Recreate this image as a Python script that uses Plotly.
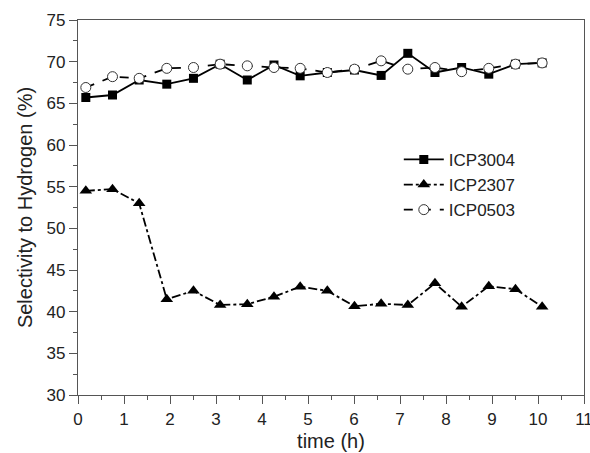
import plotly.graph_objects as go

time_h = [0.17, 0.75, 1.33, 1.93, 2.51, 3.09, 3.68, 4.26, 4.83, 5.42, 6.01, 6.59, 7.17, 7.76, 8.34, 8.93, 9.51, 10.09]
icp3004 = [65.7, 66.0, 67.8, 67.3, 68.0, 69.7, 67.8, 69.6, 68.3, 68.7, 69.0, 68.35, 71.0, 68.7, 69.3, 68.5, 69.7, 69.85]
icp2307 = [54.5, 54.7, 53.0, 41.5, 42.5, 40.8, 40.9, 41.8, 43.0, 42.5, 40.65, 40.95, 40.8, 43.4, 40.6, 43.05, 42.7, 40.6]
icp0503 = [66.9, 68.2, 68.0, 69.2, 69.3, 69.7, 69.5, 69.3, 69.2, 68.7, 69.1, 70.1, 69.1, 69.3, 68.8, 69.2, 69.7, 69.85]

x_title = "time (h)"
y_title = "Selectivity to Hydrogen (%)"

font_family = "Liberation Sans, Arial, sans-serif"
axis_color = "#555"

fig = go.Figure()
fig.add_trace(go.Scatter(
    x=time_h, y=icp3004, name="ICP3004", mode="lines+markers",
    line=dict(color="black", width=1.8, dash="solid"),
    marker=dict(symbol="square", size=9, color="black"),
))
fig.add_trace(go.Scatter(
    x=time_h, y=icp2307, name="ICP2307", mode="lines+markers",
    line=dict(color="black", width=1.8, dash="dashdot"),
    marker=dict(symbol="triangle-up", size=11, color="black"),
))
fig.add_trace(go.Scatter(
    x=time_h, y=icp0503, name="ICP0503", mode="lines+markers",
    line=dict(color="black", width=1.8, dash="dash"),
    marker=dict(symbol="circle", size=10, color="white", line=dict(color="#333", width=1)),
))

axis_common = dict(
    showline=True, linecolor=axis_color, linewidth=1.3, mirror=True,
    ticks="outside", ticklen=8, tickcolor=axis_color, tickwidth=1.3,
    showgrid=False, zeroline=False, automargin=False,
    ticklabeloverflow="allow",
    tickfont=dict(family=font_family, size=17, color="#222"),
)

fig.update_xaxes(
    range=[0, 11], dtick=1, tick0=0,
    minor=dict(dtick=0.5, ticks="outside", ticklen=4, tickcolor=axis_color, tickwidth=1.3),
    title=dict(text=x_title, font=dict(family=font_family, size=20, color="#222"), standoff=6),
    **axis_common,
)
fig.update_yaxes(
    range=[30, 75], dtick=5, tick0=30,
    minor=dict(dtick=2.5, ticks="outside", ticklen=4, tickcolor=axis_color, tickwidth=1.3),
    title=dict(text=y_title, font=dict(family=font_family, size=20, color="#222"), standoff=8),
    **axis_common,
)

fig.update_layout(
    width=590, height=453,
    margin=dict(l=78, r=6, t=20, b=58),
    paper_bgcolor="white", plot_bgcolor="white",
    showlegend=True,
    legend=dict(
        x=0.634, y=0.675, xanchor="left", yanchor="top",
        bgcolor="rgba(0,0,0,0)", borderwidth=0,
        font=dict(family=font_family, size=17, color="#222"),
        itemwidth=40, tracegroupgap=0,
    ),
)

fig.write_html("out.html")
